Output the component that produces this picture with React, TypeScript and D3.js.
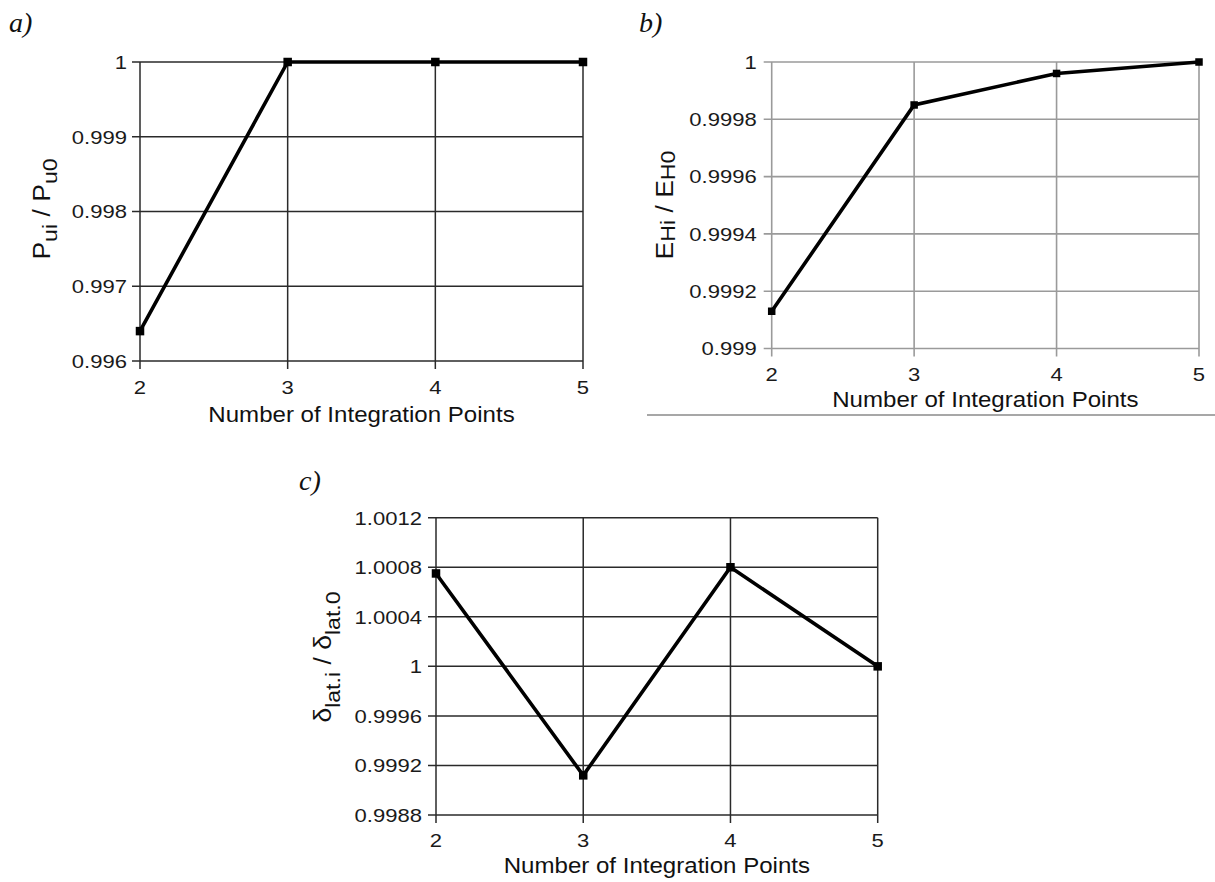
import React from 'react';
import * as d3 from 'd3';

// Number of integration points along the x axis (shared by all panels)
const integrationPoints = [2, 3, 4, 5];

// a) ultimate load ratio
const pressureRatio = [0.9964, 1, 1, 1];
const pressureTicks = [0.996, 0.997, 0.998, 0.999, 1];

// b) energy ratio
const energyRatio = [0.99913, 0.99985, 0.99996, 1];
const energyTicks = [0.999, 0.9992, 0.9994, 0.9996, 0.9998, 1];

// c) lateral deflection ratio
const deflectionRatio = [1.00075, 0.99912, 1.0008, 1];
const deflectionTicks = [0.9988, 0.9992, 0.9996, 1, 1.0004, 1.0008, 1.0012];

const xTitle = 'Number of Integration Points';

type Part = { t: string; sub?: boolean };
const pressureTitle: Part[] = [
  { t: 'P' }, { t: 'ui', sub: true }, { t: ' / ' }, { t: 'P' }, { t: 'u0', sub: true },
];
const energyTitle: Part[] = [
  { t: 'E' }, { t: 'Hi', sub: true }, { t: ' / ' }, { t: 'E' }, { t: 'H0', sub: true },
];
const deflectionTitle: Part[] = [
  { t: 'δ' }, { t: 'lat.i', sub: true }, { t: ' / ' }, { t: 'δ' }, { t: 'lat.0', sub: true },
];

const SANS = 'Liberation Sans, Arial, Helvetica, sans-serif';
const SERIF = 'Liberation Serif, Times New Roman, serif';

type PanelProps = {
  left: number;
  right: number;
  top: number;
  bottom: number;
  ticks: number[];
  values: number[];
  grid: string;
  gridWidth: number;
  letter: string;
  letterX: number;
  letterY: number;
  title: Part[];
  titleX: number;
  titleY: number;
  subShift: number;
  labelGap: number;
  xLabelDy: number;
  xTitleDy: number;
  marker: number;
};

function Panel(p: PanelProps) {
  const x = d3.scaleLinear().domain(d3.extent(integrationPoints) as [number, number]).range([p.left, p.right]);
  const y = d3.scaleLinear().domain(d3.extent(p.ticks) as [number, number]).range([p.bottom, p.top]);
  const line = d3
    .line<number>()
    .x((_, i) => x(integrationPoints[i]))
    .y((d) => y(d));
  const fmt = (v: number) => String(+v.toFixed(4));
  const tickLen = 8;
  const midX = (p.left + p.right) / 2;

  return (
    <g>
      {/* horizontal grid lines with left tick marks */}
      {p.ticks.map((t) => (
        <line
          key={'h' + t}
          x1={p.left - tickLen}
          x2={p.right}
          y1={y(t)}
          y2={y(t)}
          stroke={p.grid}
          strokeWidth={p.gridWidth}
        />
      ))}
      {/* vertical grid lines with bottom tick marks */}
      {integrationPoints.map((n) => (
        <line
          key={'v' + n}
          x1={x(n)}
          x2={x(n)}
          y1={p.top}
          y2={p.bottom + tickLen}
          stroke={p.grid}
          strokeWidth={p.gridWidth}
        />
      ))}
      {/* y tick labels */}
      {p.ticks.map((t) => (
        <text
          key={'yl' + t}
          transform={`translate(${p.left - p.labelGap},${y(t) + 6.8}) scale(1.16,1)`}
          textAnchor="end"
          fontSize={19}
          fontFamily={SANS}
          fill="#1a1a1a"
        >
          {fmt(t)}
        </text>
      ))}
      {/* x tick labels */}
      {integrationPoints.map((n) => (
        <text
          key={'xl' + n}
          transform={`translate(${x(n)},${p.bottom + p.xLabelDy}) scale(1.16,1)`}
          textAnchor="middle"
          fontSize={19}
          fontFamily={SANS}
          fill="#1a1a1a"
        >
          {n}
        </text>
      ))}
      {/* x axis title */}
      <text
        transform={`translate(${midX},${p.bottom + p.xTitleDy}) scale(1.12,1)`}
        textAnchor="middle"
        fontSize={21.5}
        fontFamily={SANS}
        fill="#111"
      >
        {xTitle}
      </text>
      {/* y axis title */}
      <text
        transform={`translate(${p.titleX},${p.titleY}) rotate(-90) scale(1.36,1.18)`}
        textAnchor="middle"
        fontSize={19}
        fontFamily={SANS}
        fill="#111"
      >
        {p.title.map((part, i) => (
          <tspan
            key={i}
            fontSize={part.sub ? 17 : 19.5}
            dy={part.sub ? p.subShift : i > 0 && p.title[i - 1].sub ? -p.subShift : 0}
          >
            {part.t}
          </tspan>
        ))}
      </text>
      {/* series line */}
      <path d={line(p.values) || ''} fill="none" stroke="#000" strokeWidth={3.6} strokeLinejoin="miter" />
      {p.values.map((v, i) => (
        <rect
          key={'m' + i}
          x={x(integrationPoints[i]) - p.marker / 2}
          y={y(v) - p.marker / 2}
          width={p.marker}
          height={p.marker}
          fill="#000"
        />
      ))}
      {/* panel letter */}
      <text
        x={p.letterX}
        y={p.letterY}
        fontSize={28}
        fontStyle="italic"
        fontFamily={SERIF}
        fill="#111"
      >
        {p.letter}
      </text>
    </g>
  );
}

export default function App() {
  return (
    <svg
      width={1215}
      height={882}
      style={{ position: 'absolute', left: 0, top: 0, background: '#fff' }}
    >
      <rect width={1215} height={882} fill="#fff" />
      <Panel
        left={140}
        right={583}
        top={62}
        bottom={361}
        ticks={pressureTicks}
        values={pressureRatio}
        grid="#2a2a2a"
        gridWidth={1.5}
        letter="a)"
        letterX={9}
        letterY={32}
        title={pressureTitle}
        titleX={50}
        titleY={209}
        subShift={6}
        labelGap={13}
        xLabelDy={33}
        xTitleDy={60.5}
        marker={8.5}
      />
      <Panel
        left={771.7}
        right={1199}
        top={62}
        bottom={348.5}
        ticks={energyTicks}
        values={energyRatio}
        grid="#9a9a9a"
        gridWidth={1.6}
        letter="b)"
        letterX={639}
        letterY={32}
        title={energyTitle}
        titleX={673}
        titleY={205}
        subShift={2}
        labelGap={15}
        xLabelDy={32.5}
        xTitleDy={58}
        marker={7.5}
      />
      {/* bottom rule under panel b */}
      <line x1={647} x2={1215} y1={415} y2={415} stroke="#8a8a8a" strokeWidth={1.5} />
      <Panel
        left={436}
        right={877.7}
        top={517.7}
        bottom={815}
        ticks={deflectionTicks}
        values={deflectionRatio}
        grid="#2a2a2a"
        gridWidth={1.5}
        letter="c)"
        letterX={299}
        letterY={490}
        title={deflectionTitle}
        titleX={331}
        titleY={657}
        subShift={8}
        labelGap={14}
        xLabelDy={32}
        xTitleDy={58}
        marker={8.5}
      />
    </svg>
  );
}
